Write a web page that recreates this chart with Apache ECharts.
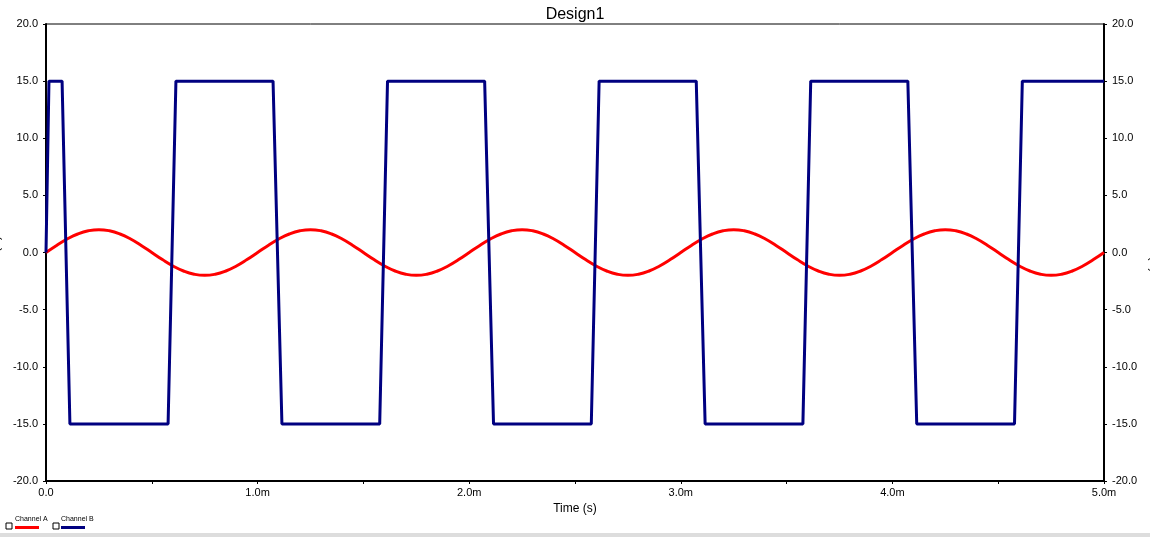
<!DOCTYPE html>
<html>
<head>
<meta charset="utf-8">
<script src="https://cdn.jsdelivr.net/npm/echarts@6/dist/echarts.min.js"></script>
<style>
  html, body { margin: 0; padding: 0; background: #fff; }
  #chart { width: 1150px; height: 537px; }
</style>
</head>
<body>
<div id="chart"></div>
<script>
  // time in ms
  const sineTimes = [];
  for (let i = 0; i <= 100; i++) sineTimes.push(+(i * 0.05).toFixed(2));
  const vinValues = [
    0, 0.62, 1.18, 1.62, 1.9, 2, 1.9, 1.62, 1.18, 0.62,
    0, -0.62, -1.18, -1.62, -1.9, -2, -1.9, -1.62, -1.18, -0.62,
    0, 0.62, 1.18, 1.62, 1.9, 2, 1.9, 1.62, 1.18, 0.62,
    0, -0.62, -1.18, -1.62, -1.9, -2, -1.9, -1.62, -1.18, -0.62,
    0, 0.62, 1.18, 1.62, 1.9, 2, 1.9, 1.62, 1.18, 0.62,
    0, -0.62, -1.18, -1.62, -1.9, -2, -1.9, -1.62, -1.18, -0.62,
    0, 0.62, 1.18, 1.62, 1.9, 2, 1.9, 1.62, 1.18, 0.62,
    0, -0.62, -1.18, -1.62, -1.9, -2, -1.9, -1.62, -1.18, -0.62,
    0, 0.62, 1.18, 1.62, 1.9, 2, 1.9, 1.62, 1.18, 0.62,
    0, -0.62, -1.18, -1.62, -1.9, -2, -1.9, -1.62, -1.18, -0.62,
    0
  ];
  const voutTimes = [
    0, 0.014, 0.076, 0.113, 0.577, 0.614,
    1.073, 1.115, 1.577, 1.614,
    2.073, 2.115, 2.577, 2.614,
    3.073, 3.115, 3.577, 3.614,
    4.073, 4.115, 4.577, 4.614, 5.0
  ];
  const voutValues = [
    0, 15, 15, -15, -15, 15,
    15, -15, -15, 15,
    15, -15, -15, 15,
    15, -15, -15, 15,
    15, -15, -15, 15, 15
  ];

  const chart = echarts.init(document.getElementById('chart'));
  const font = 'Liberation Sans, Arial, sans-serif';
  const yAxisBase = {
    type: 'value', min: -20, max: 20, interval: 5,
    axisLine: { show: true, lineStyle: { color: '#000', width: 2 } },
    axisTick: { show: true, length: 3, lineStyle: { color: '#000' } },
    splitLine: { show: false },
    axisLabel: { color: '#000', fontFamily: font, fontSize: 11, formatter: (v) => v.toFixed(1) },
    nameLocation: 'middle', nameGap: 36,
    nameTextStyle: { color: '#000', fontFamily: font, fontSize: 12 }
  };

  chart.setOption({
    animation: false,
    title: {
      text: 'Design1', left: 'center', top: 2,
      textStyle: { color: '#000', fontFamily: font, fontSize: 16, fontWeight: 'normal' }
    },
    grid: {
      left: 46, right: 46, top: 24, bottom: 56, containLabel: false, outerBoundsMode: 'none',
      show: true, borderColor: '#000', borderWidth: 1
    },
    xAxis: {
      type: 'value', min: 0, max: 5, interval: 0.5,
      name: 'Time (s)', nameLocation: 'middle', nameGap: 22,
      nameTextStyle: { color: '#000', fontFamily: font, fontSize: 12 },
      axisLine: { onZero: false, lineStyle: { color: '#000', width: 2 } },
      axisTick: { length: 3, lineStyle: { color: '#000' } },
      splitLine: { show: false },
      axisLabel: {
        color: '#000', fontFamily: font, fontSize: 11, margin: 6,
        formatter: (v) => (Math.abs(v % 1) > 1e-6 ? '' : v === 0 ? '0.0' : v.toFixed(1) + 'm')
      }
    },
    yAxis: [
      Object.assign({}, yAxisBase, { name: 'Vin(V)', position: 'left', nameRotate: 90 }),
      Object.assign({}, yAxisBase, { name: 'Vout(V)', position: 'right', nameRotate: -90 })
    ],
    series: [
      {
        name: 'Channel A', type: 'line', smooth: true, showSymbol: false,
        lineStyle: { color: '#ff0000', width: 3 },
        data: sineTimes.map((t, i) => [t, vinValues[i]])
      },
      {
        name: 'Channel B', type: 'line', yAxisIndex: 1, showSymbol: false,
        lineStyle: { color: '#000080', width: 3 },
        data: voutTimes.map((t, i) => [t, voutValues[i]])
      }
    ],
    graphic: [
      { type: 'rect', shape: { x: 0, y: 533, width: 1150, height: 4 }, style: { fill: '#ddd' } },
      { type: 'rect', shape: { x: 6, y: 523, width: 6, height: 6 }, style: { fill: '#fff', stroke: '#000', lineWidth: 1 } },
      { type: 'text', x: 15, y: 516, style: { text: 'Channel A', fontSize: 7, fontFamily: font, fill: '#000' } },
      { type: 'rect', shape: { x: 15, y: 526, width: 24, height: 3 }, style: { fill: '#ff0000' } },
      { type: 'rect', shape: { x: 53, y: 523, width: 6, height: 6 }, style: { fill: '#fff', stroke: '#000', lineWidth: 1 } },
      { type: 'text', x: 61, y: 516, style: { text: 'Channel B', fontSize: 7, fontFamily: font, fill: '#000' } },
      { type: 'rect', shape: { x: 61, y: 526, width: 24, height: 3 }, style: { fill: '#000080' } }
    ]
  });
</script>
</body>
</html>
